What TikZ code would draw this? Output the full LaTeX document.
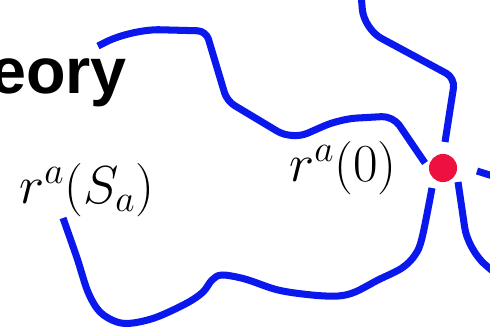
\documentclass[tikz,border=0pt]{standalone}
\usepackage{fix-cm}
\usepackage{fontspec}
\newfontfamily\titlefont{Liberation Sans}
\definecolor{wireblue}{RGB}{10,24,238}
\definecolor{dotred}{RGB}{238,16,62}

\begin{document}
\begin{tikzpicture}[
    x=0.025cm, y=-0.025cm,
    wire/.style={draw=wireblue, line width=5pt, line join=round, rounded corners=9pt},
    origin/.style={circle, fill=dotred, inner sep=0pt, minimum size=20pt},
    lbl/.style={anchor=base west, inner sep=0pt, font=\fontsize{38}{42}\selectfont},
    ttl/.style={anchor=base west, inner sep=0pt,
                font=\titlefont\bfseries\fontsize{46}{50}\selectfont}
]
% cadre 490 x 331 (unités = pixels)
\useasboundingbox (0,0) rectangle (490,331);
\clip (0,0) rectangle (490,331);

% Titre (coupé à gauche)
\node[ttl] (title) at (-10,93) {eory};

% Point d'origine
\node[origin] (o) at (443,168) {};

% Bouts des chemins autour du point
\coordinate (eA) at (425,163);
\coordinate (eB) at (445,142);
\coordinate (eC) at (477,171);
\coordinate (eD) at (458,182);
\coordinate (eE) at (432,188);

% Étiquettes
\node[lbl] (lSa) at (19,203) {$r^a(S_a)$};
\node[lbl] (l0)  at (289,181) {$r^a(0)$};

% Chemin du haut
\draw[wire] (98,46) [rounded corners=20pt] -- (132,29) [rounded corners=6pt] -- (206,31)
    -- (227,101) [rounded corners=12pt] -- (292,140) -- (340,119) [rounded corners=8pt]
    -- (393,116) -- (eA);

% Chemin venant du haut à droite
\draw[wire] (361,-6) [rounded corners=14pt] -- (364,29) [rounded corners=7pt] -- (455,78) -- (eB);

% Départ vers la droite
\draw[wire] (eC) -- (496,177);

% Chemin vers le bas à droite
\draw[wire] (eD) [rounded corners=16pt] -- (468,250) -- (502,279);

% Grande boucle du bas
\draw[wire, rounded corners=0pt] plot[smooth, tension=0.55] coordinates {
    (63,218) (77,258) (88,292) (100,312) (117,322) (133,323) (157,317)
    (187,303) (203,292) (212,280) (222,275) (245,279) (278,290) (312,295)
    (338,296) (355,292) (378,280) (402,268) (415,255) (422,238) (432,188)};
\end{tikzpicture}
\end{document}
